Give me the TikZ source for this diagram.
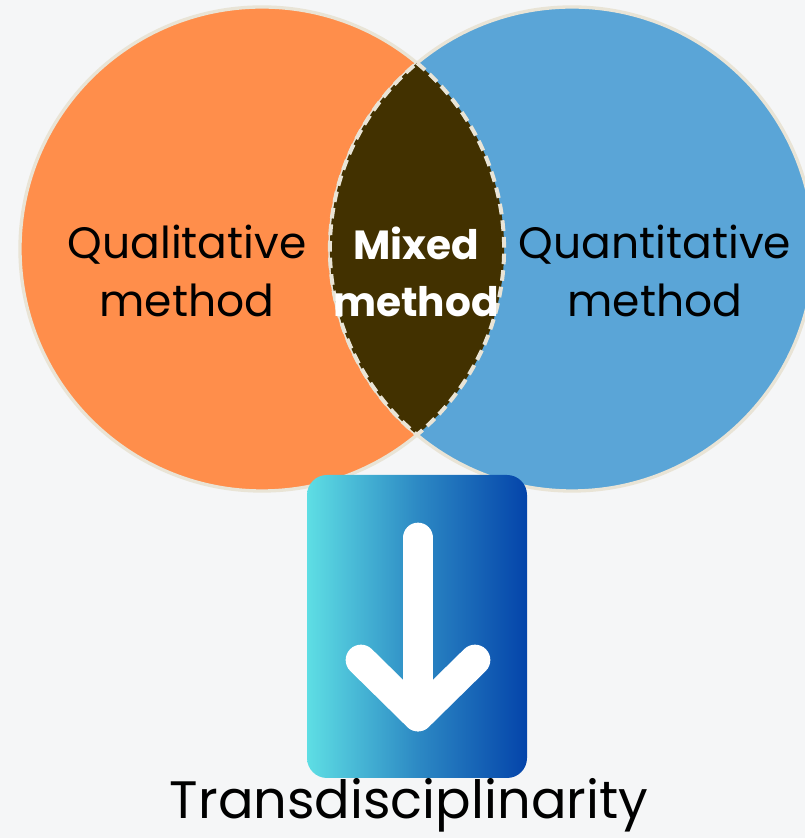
\documentclass[tikz,border=0pt]{standalone}
\usepackage{fontspec}
\setmainfont{Poppins}
\begin{document}
\begin{tikzpicture}[x=0.75pt,y=0.75pt,
  circborder/.style={draw=beigeline,line width=2.5pt},
  lbl/.style={align=center,text=black,font=\fontsize{33}{43}\selectfont},
  whitestroke/.style={draw=white,line width=23pt,line cap=round,line join=round}]
\definecolor{bgcol}{HTML}{F5F6F7}
\definecolor{orangefill}{HTML}{FF8E4B}
\definecolor{bluefill}{HTML}{5AA5D7}
\definecolor{lensfill}{HTML}{423100}
\definecolor{beigeline}{HTML}{E9E4D6}
\definecolor{gradleft}{HTML}{5EDEE4}
\definecolor{gradright}{HTML}{0444AA}
\useasboundingbox (0,0) rectangle (805,838);
\clip (0,0) rectangle (805,838);
\fill[bgcol] (0,0) rectangle (805,838);
% circles
\filldraw[fill=orangefill,circborder] (262,589) circle[radius=242];
\filldraw[fill=bluefill,circborder] (572,589) circle[radius=242];
% lens
\fill[lensfill] (417,775) arc[start angle=50.2,end angle=-50.2,radius=242]
  arc[start angle=230.2,end angle=129.8,radius=242] -- cycle;
\draw[beigeline,line width=3pt,dash pattern=on 8pt off 4.5pt]
  (417,775) arc[start angle=50.2,end angle=-50.2,radius=242]
  arc[start angle=230.2,end angle=129.8,radius=242];
% labels
\node[lbl] (qual) at (187,567) {Qualitative\\method};
\node[lbl] (quant) at (655,567) {Quantitative\\method};
\node[lbl,text=white,font=\fontsize{30.5}{43}\selectfont\bfseries] (mixed) at (416,566) {Mixed\\method};
% box
\shade[left color=gradleft,right color=gradright,middle color=gradleft!45!gradright,rounded corners=15pt]
  (307,60) rectangle (527,363);
\node[inner sep=0pt,minimum width=220,minimum height=303] (box) at (417,211.5) {};
\coordinate (shafttop) at (418,300);
\coordinate (tip) at (418,122);
\coordinate (cl) at (361,178);
\coordinate (cr) at (475,178);
\draw[whitestroke] (shafttop) -- (tip);
\draw[whitestroke] (cl) -- (tip) -- (cr);
% bottom label
\node[anchor=base,font=\fontsize{39.5}{46}\selectfont,inner sep=0pt] (trans) at (409,19) {Transdisciplinarity};
\end{tikzpicture}
\end{document}
